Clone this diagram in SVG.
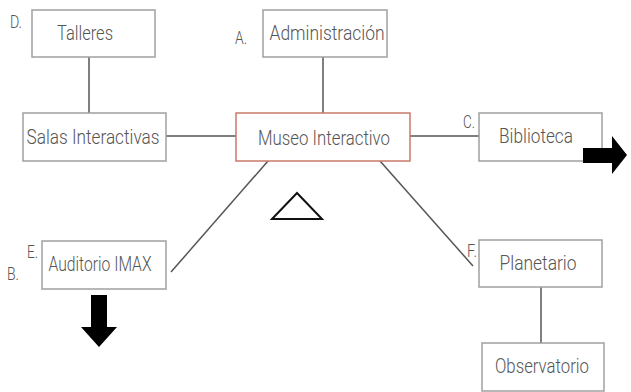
<svg xmlns="http://www.w3.org/2000/svg" width="631" height="392" viewBox="0 0 631 392">
<style>
.box{fill:#fff;stroke:#a0a0a0;stroke-width:1.5}
.main{fill:#fff;stroke:#c87a68;stroke-width:1.5}
.t{font-family:Roboto,"Liberation Sans",Arial,sans-serif;font-weight:300;font-size:21px;fill:#555;text-anchor:middle}
.l{font-family:Roboto,"Liberation Sans",Arial,sans-serif;font-weight:300;font-size:18px;fill:#555}
.c{stroke:#555;stroke-width:1.5;fill:none}
</style>
<rect width="631" height="392" fill="#fff"/>
<g id="connectors">
<line class="c" x1="89" y1="57" x2="89" y2="113"/>
<line class="c" x1="323" y1="57" x2="323" y2="113"/>
<line class="c" x1="166" y1="136" x2="236" y2="136"/>
<line class="c" x1="410" y1="136" x2="479" y2="136"/>
<line class="c" x1="268" y1="161" x2="171" y2="272"/>
<line class="c" x1="380" y1="161" x2="473" y2="266"/>
<line class="c" x1="541" y1="287" x2="541" y2="343"/>
</g>
<g id="talleres"><rect class="box" x="32" y="10" width="123" height="47"/><text class="t" x="85" y="40" textLength="56" lengthAdjust="spacingAndGlyphs">Talleres</text></g>
<g id="administracion"><rect class="box" x="263" y="10" width="124" height="47"/><text class="t" x="327" y="40" textLength="115" lengthAdjust="spacingAndGlyphs">Administración</text></g>
<g id="salas"><rect class="box" x="23" y="113" width="143" height="48"/><text class="t" x="93" y="144" textLength="133" lengthAdjust="spacingAndGlyphs">Salas Interactivas</text></g>
<g id="museo"><rect class="main" x="236" y="113" width="174" height="48"/><text class="t" x="324" y="145" textLength="132" lengthAdjust="spacingAndGlyphs">Museo Interactivo</text></g>
<g id="biblioteca"><rect class="box" x="479" y="113" width="123" height="48"/><text class="t" x="536" y="143" textLength="74" lengthAdjust="spacingAndGlyphs">Biblioteca</text></g>
<g id="auditorio"><rect class="box" x="42" y="241" width="124" height="48"/><text class="t" x="100" y="271" textLength="103" lengthAdjust="spacingAndGlyphs">Auditorio IMAX</text></g>
<g id="planetario"><rect class="box" x="479" y="240" width="123" height="47"/><text class="t" x="538" y="270" textLength="77" lengthAdjust="spacingAndGlyphs">Planetario</text></g>
<g id="observatorio"><rect class="box" x="482" y="343" width="122" height="48"/><text class="t" x="542" y="373" textLength="94" lengthAdjust="spacingAndGlyphs">Observatorio</text></g>
<g id="labels">
<text class="l" x="10" y="28" textLength="12" lengthAdjust="spacingAndGlyphs">D.</text>
<text class="l" x="235" y="44" textLength="12" lengthAdjust="spacingAndGlyphs">A.</text>
<text class="l" x="463" y="128" textLength="12" lengthAdjust="spacingAndGlyphs">C.</text>
<text class="l" x="27" y="258" textLength="11" lengthAdjust="spacingAndGlyphs">E.</text>
<text class="l" x="7" y="280" textLength="12" lengthAdjust="spacingAndGlyphs">B.</text>
<text class="l" x="467" y="257" textLength="10" lengthAdjust="spacingAndGlyphs">F.</text>
</g>
<g id="shapes">
<polygon points="297,193 272,219 322,219" fill="none" stroke="#111" stroke-width="2"/>
<polygon points="583,148 612,148 612,136 627,155 612,174 612,163 583,163" fill="#000"/>
<polygon points="91,295 107,295 107,327 117,327 99,347 81,327 91,327" fill="#000"/>
</g>
</svg>
